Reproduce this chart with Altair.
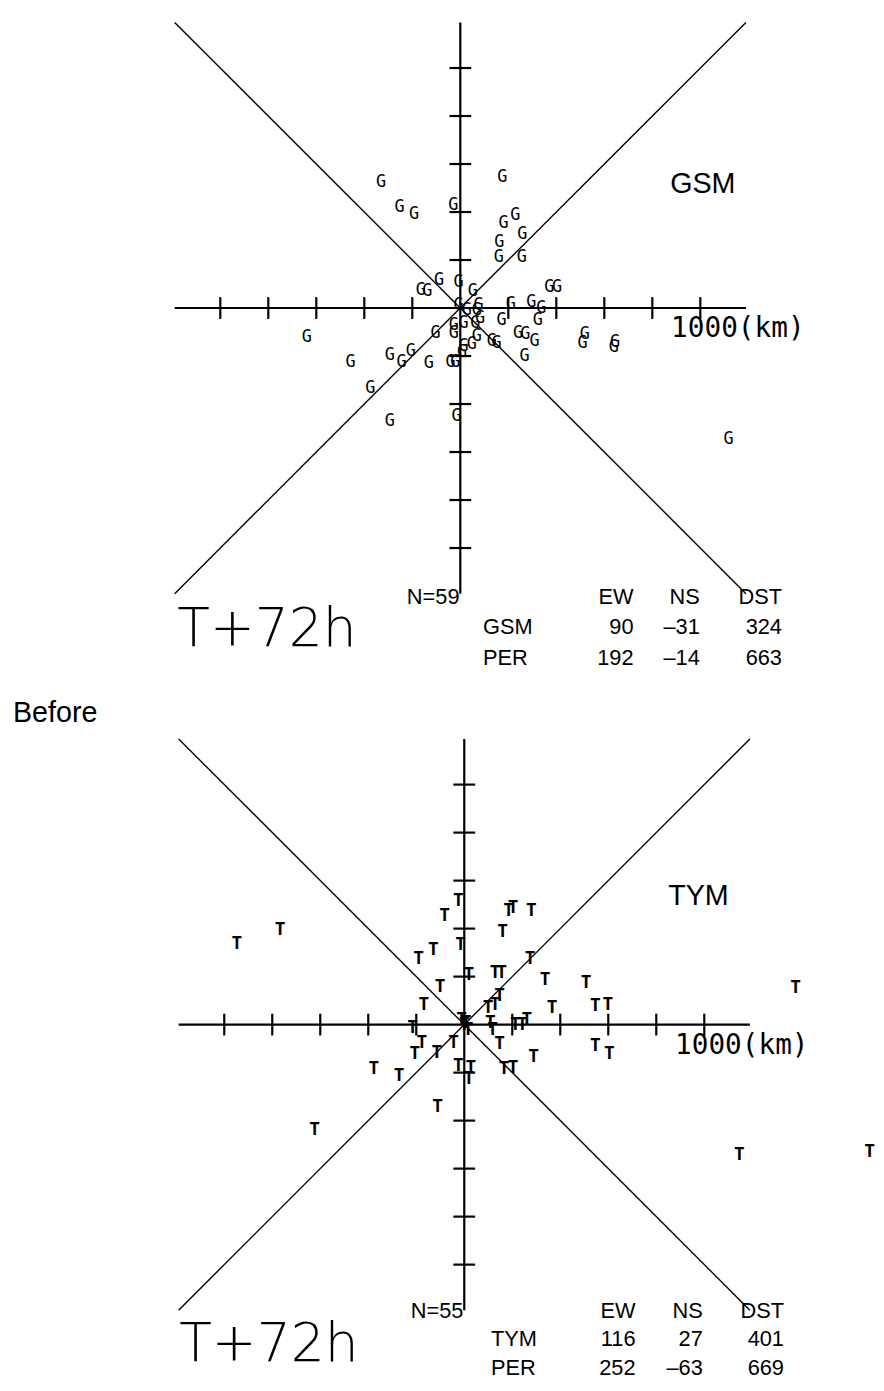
import altair as alt
import pandas as pd

# ---------------- data (km, EW / NS displacement) ----------------
gsm_ew = [-330, 175, -253, -193, -29, 180, 229, 258, 163, 160, 256,
          -89, -165, -137, -7, 52, 371, 403,
          210, 296, 337, 323, 172,
          241, 271, 309,
          519, 509, 645, 640,
          -640, -457, -294, -245, -206, -103, -131, -41, -21,
          131, 151, 268, 69, 14, 48, -27, -27, 7,
          -375, -294, -16, 1118,
          -7, 27, 69, 82, 62, 14, 76]
gsm_ns = [523, 544, 421, 393, 427, 352, 389, 307, 274, 212, 212,
          117, 76, 69, 110, 69, 89, 89,
          18, 27, 0, -48, -48,
          -103, -110, -137,
          -107, -144, -141, -162,
          -121, -223, -196, -223, -179, -103, -230, -227, -227,
          -137, -144, -199, -117, -158, -151, -69, -103, -185,
          -333, -470, -449, -545,
          14, -7, -7, -41, -62, -62, 14]

tym_ew = [-948, -767, -82, -25, 185, 204, 280, 160, -15, -190,
          -129, 274, 19, 128, 156, 337, 508, -101, 147, 128,
          99, -168, 366, 546, 598, 1380, 109, 118, 213, 242,
          261, -215, -177, -206, -114, -44, 147, 289, 546, 604,
          -377, -272, -25, 27, 166, 204, 19, -111, -624, 1146,
          1689, 0, -11, 16, 8]
tym_ns = [337, 392, 454, 515, 474, 485, 474, 385, 330, 275,
          309, 275, 206, 213, 213, 186, 172, 158, 117, 82,
          69, 82, 69, 76, 82, 151, 7, -21, 0, 0,
          18, -14, -76, -124, -117, -76, -82, -137, -89, -124,
          -186, -213, -172, -179, -186, -179, -227, -345, -441, -544,
          -531, 0, 21, -21, 8]

stat_cols = ["EW", "NS", "DST"]
gsm_rows = ["GSM", "PER"]
gsm_ew_stat = [90, 192]
gsm_ns_stat = [-31, -14]
gsm_dst_stat = [324, 663]
gsm_n = 59
tym_rows = ["TYM", "PER"]
tym_ew_stat = [116, 252]
tym_ns_stat = [27, -63]
tym_dst_stat = [401, 669]
tym_n = 55

tick_km = [-1000, -800, -600, -400, -200, 200, 400, 600, 800, 1000]
axis_km = 1190
scale_label = "1000(km)"
time_label = "T+72h"
section_label = "Before"

# ---------------- layout ----------------
S = 0.2425      # px per km
W = 868
MARGIN = 8
TXT = "Liberation Sans, Arial, Helvetica, sans-serif"
MONO = "DejaVu Sans Mono, monospace"


def fmt(v):
    return str(v) if v >= 0 else "\u2013" + str(abs(v))


def make_panel(ew, ns, letter, station, rows, ew_s, ns_s, dst_s, n,
               cx, cy, top, H, lay, lfont, lsize, lweight, before=None):
    xs = alt.Scale(domain=[(MARGIN - cx) / S, (MARGIN + W - cx) / S], nice=False, zero=False)
    ys = alt.Scale(domain=[(cy - top - H) / S, (cy - top) / S], nice=False, zero=False)

    def X(f):
        return alt.X(f + ":Q", scale=xs, axis=None)

    def Y(f):
        return alt.Y(f + ":Q", scale=ys, axis=None)

    A = axis_km
    axes_df = pd.DataFrame({"x": [-A, 0], "y": [0, -A], "x2": [A, 0], "y2": [0, A]})
    diag_df = pd.DataFrame({"x": [-A, -A], "y": [-A, A], "x2": [A, A], "y2": [A, -A]})
    L = 11 / S
    tk = []
    for t in tick_km:
        tk.append({"x": t, "y": -L, "x2": t, "y2": L})
        tk.append({"x": -L, "y": t, "x2": L, "y2": t})
    ticks_df = pd.DataFrame(tk)

    def rule(df, w):
        return alt.Chart(df).mark_rule(color="black", strokeWidth=w).encode(
            x=X("x"), y=Y("y"), x2=alt.X2("x2"), y2=alt.Y2("y2"))

    def txt(items, **kw):
        df = pd.DataFrame([{"x": px / S, "y": -py / S, "t": t} for (px, py, t) in items])
        return alt.Chart(df).mark_text(color="black", **kw).encode(
            x=X("x"), y=Y("y"), text="t:N")

    pts = pd.DataFrame({"x": ew, "y": ns, "t": [letter] * len(ew)})
    letters = alt.Chart(pts).mark_text(
        color="black", font=lfont, fontSize=lsize, fontWeight=lweight,
        align="center", baseline="middle").encode(x=X("x"), y=Y("y"), text="t:N")

    layers = [rule(diag_df, 1.4), rule(axes_df, 2.2), rule(ticks_df, 2.2), letters]

    lx, ly = lay["label"]
    layers.append(txt([(lx, ly, station)], font=TXT, fontSize=29, align="left", baseline="alphabetic"))
    kx, ky = lay["km"]
    layers.append(txt([(kx, ky, scale_label)], font=MONO, fontSize=28, align="left", baseline="alphabetic"))
    tx, ty = lay["time"]
    layers.append(txt([(tx, ty, time_label)], font="DejaVu Sans, sans-serif", fontSize=54,
                      fontWeight=200, align="left", baseline="alphabetic"))

    r0, r1, r2 = lay["rows"]
    c = lay["cols"]
    nx = lay["n"]
    rx = lay["rowx"]
    left_items = [(nx, r0, "N=" + str(n)), (rx, r1, rows[0]), (rx, r2, rows[1])]
    right_items = [(c[0], r0, stat_cols[0]), (c[1], r0, stat_cols[1]), (c[2], r0, stat_cols[2])]
    for (ry, i) in ((r1, 0), (r2, 1)):
        right_items += [(c[0], ry, fmt(ew_s[i])), (c[1], ry, fmt(ns_s[i])), (c[2], ry, fmt(dst_s[i]))]
    layers.append(txt(left_items, font=TXT, fontSize=22, align="left", baseline="alphabetic"))
    layers.append(txt(right_items, font=TXT, fontSize=22, align="right", baseline="alphabetic"))

    if before is not None:
        bx, by = before
        layers.append(txt([(bx, by, section_label)], font=TXT, fontSize=29, align="left", baseline="alphabetic"))

    return alt.layer(*layers).properties(width=W, height=H)


lay1 = {"label": (212, -116), "km": (213, 29), "time": (-286, 341), "n": -54,
        "rows": (299, 329, 361), "rowx": 23, "cols": (175, 242, 325)}
lay2 = {"label": (206, -121), "km": (213, 30), "time": (-288, 340), "n": -54,
        "rows": (296, 325, 354), "rowx": 27, "cols": (173, 241, 323)}

p1 = make_panel(gsm_ew, gsm_ns, "G", "GSM", gsm_rows, gsm_ew_stat, gsm_ns_stat, gsm_dst_stat, gsm_n,
                cx=465, cy=304, top=8, H=672, lay=lay1,
                lfont=MONO, lsize=17, lweight="normal")
p2 = make_panel(tym_ew, tym_ns, "T", "TYM", tym_rows, tym_ew_stat, tym_ns_stat, tym_dst_stat, tym_n,
                cx=469, cy=1028, top=680, H=702, lay=lay2,
                lfont=MONO, lsize=18, lweight="bold", before=(-456, -306))

chart = alt.vconcat(p1, p2, spacing=0, bounds="flush").properties(
    padding=0, background="white").configure_view(strokeOpacity=0)

chart.save("out.html", embed_options={"renderer": "svg", "actions": False})
